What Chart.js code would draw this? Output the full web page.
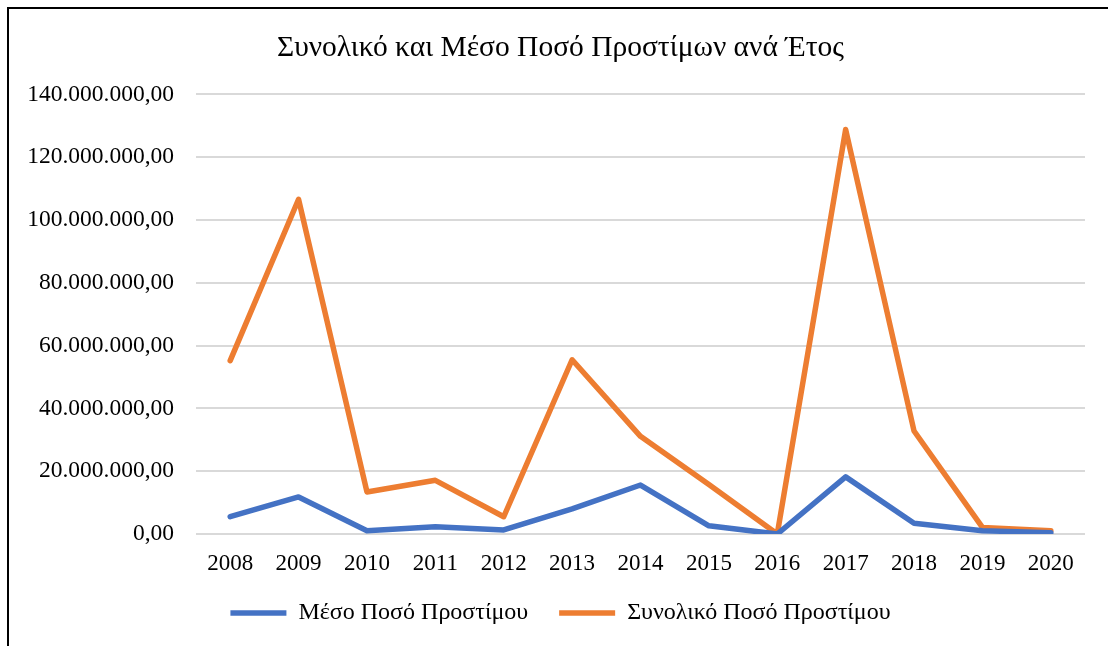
<!DOCTYPE html>
<html lang="el">
<head>
<meta charset="utf-8">
<title>Πρόστιμα ανά Έτος</title>
<script src="https://cdn.jsdelivr.net/npm/chart.js@4.4.1/dist/chart.umd.min.js"></script>
<style>
    html, body { margin: 0; padding: 0; background: #fff; overflow: hidden; }
    #contenedor { position: relative; width: 1108px; height: 646px; overflow: hidden; }
    #marco {
        position: absolute; left: 7px; top: 7px; width: 1200px; height: 700px;
        border-left: 2px solid #000; border-top: 2px solid #000; box-sizing: border-box;
    }
    #graficoPrestamos { position: absolute; left: 0; top: 0; }
</style>
</head>
<body>
<div id="contenedor">
    <div id="marco"></div>
    <!-- el marco del gráfico sigue más allá del borde derecho -->
    <canvas id="graficoPrestamos" width="1121" height="646"></canvas>
</div>
<script>
// Datos por año (importes en euros)
const anios = ['2008', '2009', '2010', '2011', '2012', '2013', '2014', '2015', '2016', '2017', '2018', '2019', '2020'];
const montoMedio = [5500000, 11800000, 1050000, 2300000, 1300000, 8000000, 15600000, 2600000, 0, 18200000, 3400000, 1050000, 400000];
const montoTotal = [55200000, 106600000, 13400000, 17100000, 5500000, 55500000, 31100000, 15800000, 0, 128800000, 32800000, 2100000, 1000000];
const ejeYMax = 140000000;
const ejeYPaso = 20000000;

const fuente = "'Liberation Serif', 'Times New Roman', serif";

// Formato griego: 140.000.000,00
function formatoGriego(valor) {
    const partes = Math.round(valor).toString().replace(/\B(?=(\d{3})+(?!\d))/g, '.');
    return partes + ',00';
}

window.crearGrafico = function() {
    try {
        const canvas = document.getElementById('graficoPrestamos');
        if (!canvas || typeof Chart === 'undefined') {
            console.debug('Canvas o Chart.js no disponible');
            return false;
        }

        const config = {
            type: 'line',
            data: {
                labels: anios,
                datasets: [{
                    label: 'Μέσο Ποσό Προστίμου',
                    data: montoMedio,
                    borderColor: '#4472C4',
                    backgroundColor: '#4472C4',
                    borderWidth: 5.5,
                    borderCapStyle: 'round',
                    borderJoinStyle: 'round',
                    pointRadius: 0,
                    tension: 0
                }, {
                    label: 'Συνολικό Ποσό Προστίμου',
                    data: montoTotal,
                    borderColor: '#ED7D31',
                    backgroundColor: '#ED7D31',
                    borderWidth: 5.5,
                    borderCapStyle: 'round',
                    borderJoinStyle: 'round',
                    pointRadius: 0,
                    tension: 0
                }]
            },
            options: {
                responsive: false,
                animation: false,
                devicePixelRatio: 1,
                layout: { padding: { left: 0, right: 0, top: 0, bottom: 16 } },
                plugins: {
                    title: {
                        display: true,
                        text: 'Συνολικό και Μέσο Ποσό Προστίμων ανά Έτος',
                        color: '#000',
                        font: { family: fuente, size: 29.5, weight: 'normal' },
                        padding: { top: 31, bottom: 28 }
                    },
                    legend: {
                        display: true,
                        position: 'bottom',
                        maxHeight: 60,
                        labels: {
                            usePointStyle: true,
                            pointStyle: 'line',
                            pointStyleWidth: 56,
                            color: '#000',
                            font: { family: fuente, size: 24 },
                            padding: 31
                        }
                    },
                    tooltip: { enabled: false }
                },
                scales: {
                    x: {
                        offset: true,
                        afterFit: function(escala) { escala.height = 36; },
                        grid: { display: false },
                        border: { display: false },
                        ticks: {
                            color: '#000',
                            font: { family: fuente, size: 23 },
                            padding: 8,
                            maxRotation: 0,
                            autoSkip: false
                        }
                    },
                    y: {
                        min: 0,
                        max: ejeYMax,
                        // ancho fijo: el área del gráfico empieza en x = 196
                        afterFit: function(escala) { escala.width = 196; },
                        grid: { color: '#d9d9d9', lineWidth: 2, drawTicks: false },
                        border: { display: false },
                        ticks: {
                            stepSize: ejeYPaso,
                            color: '#000',
                            font: { family: fuente, size: 23.5 },
                            padding: 22,
                            callback: function(valor) { return formatoGriego(valor); }
                        }
                    },
                    // margen derecho vacío (el título queda centrado en todo el marco)
                    margenDerecho: {
                        type: 'linear',
                        position: 'right',
                        afterFit: function(escala) { escala.width = 36; },
                        grid: { display: false },
                        border: { display: false },
                        ticks: { display: false }
                    }
                }
            }
        };

        window.graficoPrestamos_chart = new Chart(canvas, config);
        return true;
    } catch (error) {
        console.error('Error creando gráfico:', error);
        return false;
    }
};

window.crearGrafico();
</script>
</body>
</html>
